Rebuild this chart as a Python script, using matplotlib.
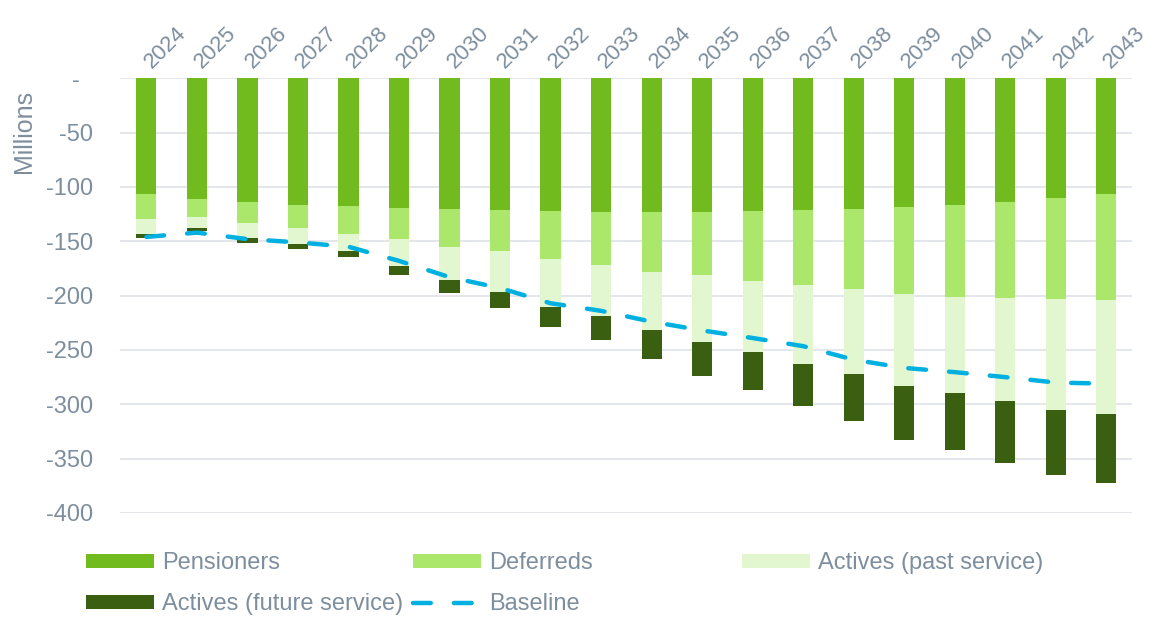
import numpy as np
import matplotlib
matplotlib.use('Agg')
import matplotlib.pyplot as plt
import matplotlib.transforms as mtransforms
from matplotlib.patches import Patch
from matplotlib.lines import Line2D

plt.rcParams['font.family'] = ['Liberation Sans', 'DejaVu Sans']

years = [str(y) for y in range(2024, 2044)]
pensioners = [-106.5, -111.1, -113.9, -116.4, -117.6, -119.4, -120.4, -121.3, -122.2, -123.1,
              -123.1, -123.1, -122.2, -121.3, -120.4, -118.5, -116.4, -113.9, -110.2, -106.8]
deferreds = [-23.1, -16.3, -19.6, -21.4, -25.5, -28.9, -34.9, -37.7, -44.2, -48.8,
             -55.3, -58.0, -64.1, -69.0, -73.6, -79.8, -85.0, -88.4, -93.0, -97.3]
actives_past = [-13.8, -10.7, -13.3, -14.8, -15.9, -24.5, -30.7, -37.2, -43.9, -46.7,
                -53.4, -61.7, -65.7, -72.7, -78.0, -85.3, -88.6, -95.1, -101.9, -105.0]
actives_future = [-3.4, -2.5, -4.9, -4.9, -5.8, -8.6, -12.0, -15.6, -19.0, -22.1,
                  -26.4, -30.7, -34.7, -39.0, -43.8, -48.8, -52.0, -56.6, -59.9, -63.3]
baseline = [-146, -142, -148, -151, -155, -168, -183, -193, -207, -214,
            -224, -232, -239, -246.5, -259, -266.5, -270.4, -275, -280, -281]

c_pens = '#72bb1f'
c_def = '#abe76a'
c_past = '#e2f7cf'
c_fut = '#3a5f11'
c_base = '#00b0e0'
txt = '#7d8e9e'

fig = plt.figure(figsize=(11.5, 6.17), dpi=100)
ax = fig.add_axes([0.104, 0.1686, 0.88, 0.7045])

x = np.arange(len(years))
w = 0.4
bottom = np.zeros(len(years))
for vals, col in [(pensioners, c_pens), (deferreds, c_def),
                  (actives_past, c_past), (actives_future, c_fut)]:
    ax.bar(x, vals, w, bottom=bottom, color=col, linewidth=0, zorder=2)
    bottom = bottom + np.array(vals)

ax.plot(x, baseline, color=c_base, lw=3.2, dashes=(4, 5.2),
        dash_capstyle='round', zorder=3)

ax.set_xlim(-0.53, 19.5)
ax.set_ylim(-400, 0)
ax.set_yticks(np.arange(-400, 1, 50))
ax.set_yticklabels([('-  ' if v == 0 else str(v)) for v in range(-400, 1, 50)])
ax.grid(axis='y', color='#e1e5e9', lw=1.3, zorder=0)
ax.set_axisbelow(True)
for s in ax.spines.values():
    s.set_visible(False)

ax.xaxis.tick_top()
ax.set_xticks(x)
ax.set_xticklabels(years)
ax.tick_params(axis='x', length=0, pad=7, labelsize=16, labelcolor=txt)
shift = mtransforms.ScaledTranslation(0.05, 0, fig.dpi_scale_trans)
for lab in ax.get_xticklabels():
    lab.set_rotation(45)
    lab.set_ha('left')
    lab.set_va('baseline')
    lab.set_rotation_mode('anchor')
    lab.set_transform(lab.get_transform() + shift)
ax.tick_params(axis='y', length=0, pad=19, labelsize=17, labelcolor=txt)

ax.set_ylabel('Millions', fontsize=18, color=txt)
ax.yaxis.set_label_coords(-0.083, 0.877)

def patch(c):
    return Patch(facecolor=c, edgecolor='none')

cols = [
    ([patch(c_pens), patch(c_fut)], ['Pensioners', 'Actives (future service)'], 86),
    ([patch(c_def), Line2D([], [], color=c_base, lw=3.2, dashes=(4, 5.2),
                           dash_capstyle='round')], ['Deferreds', 'Baseline'], 413),
    ([patch(c_past)], ['Actives (past service)'], 742),
]
for handles, labels, px in cols:
    fig.legend(handles, labels, loc='upper left',
               bbox_to_anchor=(px / 1150, 1 - 552 / 617),
               frameon=False, fontsize=17, labelcolor=txt,
               handlelength=2.88, handleheight=0.55, handletextpad=0.34,
               borderpad=0, borderaxespad=0, labelspacing=0.82)

fig.savefig('out.png', dpi=100)
